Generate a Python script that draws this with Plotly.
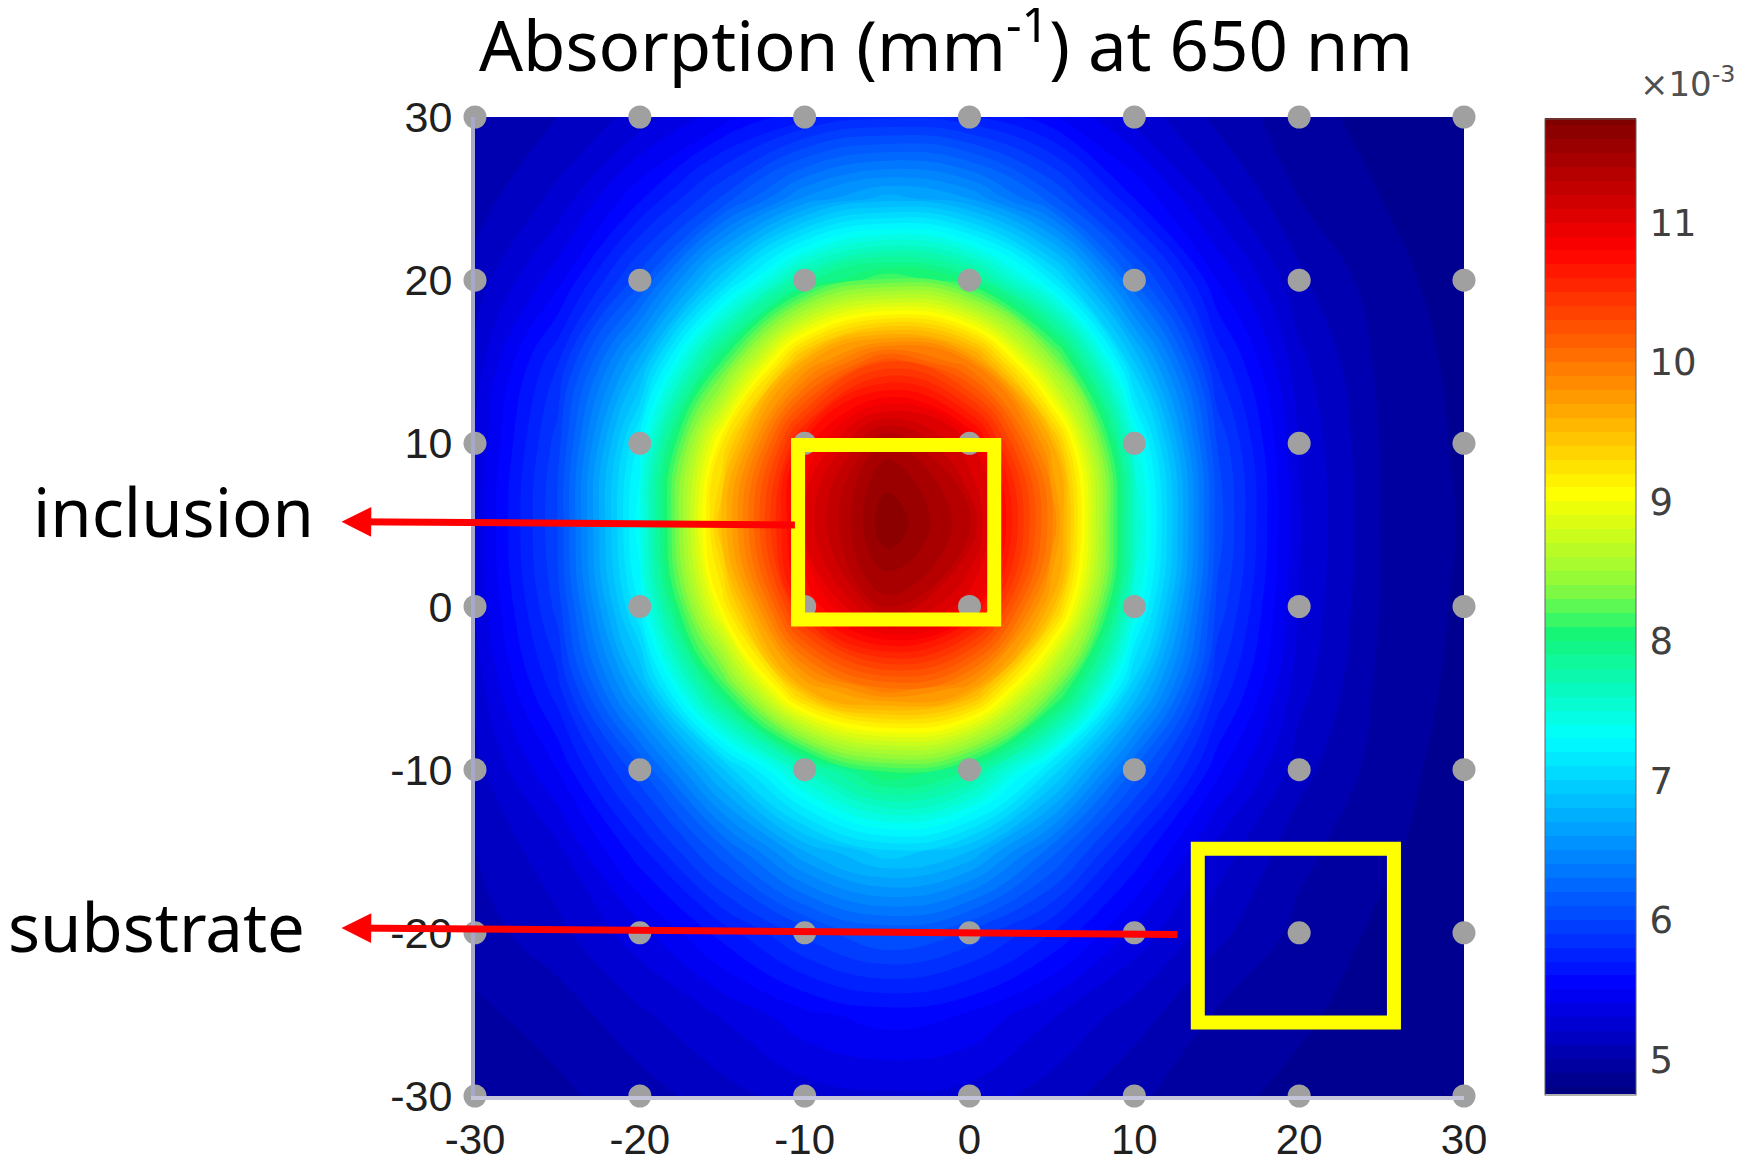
import plotly.graph_objects as go

# absorption map, units of 1e-3 mm^-1, sampled every 5 mm (rows top -> bottom)
x_mm = [-30, -25, -20, -15, -10, -5, 0, 5, 10, 15, 20, 25, 30]
y_mm = [30, 25, 20, 15, 10, 5, 0, -5, -10, -15, -20, -25, -30]
mua = [
    [5.00, 5.10, 5.24, 5.46, 5.68, 5.78, 5.72, 5.52, 5.27, 5.07, 4.94, 4.86, 4.82],
    [5.05, 5.23, 5.58, 6.02, 6.52, 6.75, 6.60, 6.14, 5.60, 5.24, 5.00, 4.90, 4.84],
    [5.14, 5.46, 6.06, 6.98, 7.85, 8.22, 7.98, 7.18, 6.18, 5.50, 5.12, 4.94, 4.85],
    [5.24, 5.79, 6.74, 8.12, 9.65, 10.30, 9.90, 8.45, 6.90, 5.78, 5.23, 4.97, 4.87],
    [5.30, 5.95, 7.25, 9.20, 10.75, 11.45, 11.00, 9.62, 7.45, 6.00, 5.29, 4.99, 4.88],
    [5.33, 6.00, 7.38, 9.52, 11.02, 11.70, 11.32, 9.92, 7.62, 6.06, 5.31, 4.99, 4.89],
    [5.30, 5.94, 7.22, 9.12, 10.66, 11.35, 10.92, 9.55, 7.44, 5.98, 5.29, 4.99, 4.88],
    [5.24, 5.76, 6.74, 8.10, 9.60, 10.00, 9.75, 8.40, 6.92, 5.80, 5.24, 4.97, 4.87],
    [5.16, 5.50, 6.08, 6.88, 7.65, 8.15, 7.90, 7.08, 6.18, 5.53, 5.14, 4.95, 4.85],
    [5.10, 5.27, 5.66, 6.16, 6.70, 6.98, 6.80, 6.24, 5.68, 5.26, 5.03, 4.92, 4.84],
    [5.05, 5.17, 5.36, 5.64, 5.94, 6.12, 5.98, 5.70, 5.37, 5.13, 4.97, 4.88, 4.83],
    [4.98, 5.04, 5.18, 5.31, 5.47, 5.55, 5.49, 5.31, 5.15, 4.99, 4.92, 4.85, 4.82],
    [4.92, 4.98, 5.05, 5.16, 5.25, 5.28, 5.26, 5.15, 5.02, 4.93, 4.87, 4.83, 4.80],
]

# measurement positions (mm)
probe_x = [-30, -20, -10, 0, 10, 20, 30]
probe_y = [-30, -20, -10, 0, 10, 20, 30]

cbar_ticks = [5, 6, 7, 8, 9, 10, 11]
axis_ticks = [-30, -20, -10, 0, 10, 20, 30]
axis_labels = ["-30", "-20", "-10", "0", "10", "20", "30"]

# matlab-ish jet
jet = [
    [0.0, "rgb(0,0,128)"],
    [0.11, "rgb(0,0,255)"],
    [0.365, "rgb(0,255,255)"],
    [0.47, "rgb(20,245,120)"],
    [0.52, "rgb(140,250,60)"],
    [0.615, "rgb(255,255,0)"],
    [0.865, "rgb(255,0,0)"],
    [1.0, "rgb(128,0,0)"],
]

# page body has an 8px margin, so the figure is drawn 8px smaller and
# all pixel positions below are in screenshot coordinates
W, H, OFF = 1745, 1160, 8
PL, PR, PT, PB = 475, 1464, 117, 1096   # plot area in screenshot px


def paper_x(px):
    return (px - PL) / (PR - PL)


def paper_y(py):
    return (PB - py) / (PB - PT)


fig = go.Figure()

fig.add_trace(go.Contour(
    x=x_mm, y=y_mm[::-1], z=mua[::-1],
    colorscale=jet, zmin=4.75, zmax=11.75, zauto=False,
    contours=dict(coloring="fill", start=4.7, end=11.8, size=0.1, showlines=False),
    line=dict(width=0, smoothing=1.3),
    colorbar=dict(
        x=paper_x(1545), xanchor="left", xpad=0, ypad=0,
        y=0.5, yanchor="middle", len=0.997, lenmode="fraction",
        thickness=91, thicknessmode="pixels",
        tickvals=cbar_ticks, ticks="outside", ticklen=6, tickcolor="rgba(0,0,0,0)",
        outlinewidth=1, outlinecolor="#606060",
        tickfont=dict(family="DejaVu Sans", size=37, color="#404040"),
    ),
    hoverinfo="skip",
))

px, py = [], []
for yy in probe_y:
    for xx in probe_x:
        px.append(xx)
        py.append(yy)
fig.add_trace(go.Scatter(
    x=px, y=py, mode="markers", cliponaxis=False,
    marker=dict(size=23, color="#a0a0a0", line=dict(width=0)),
    hoverinfo="skip", showlegend=False,
))

# yellow boxes: inclusion and substrate regions
for x0, x1, y0, y1 in [(-10.4, 1.5, -0.8, 9.9), (13.85, 25.75, -25.5, -14.85)]:
    fig.add_shape(type="rect", xref="x", yref="y", x0=x0, x1=x1, y0=y0, y1=y1,
                  line=dict(color="#ffff00", width=14), layer="above")

# red arrows to the labels
for tail_x, tail_y, head_y in [(-10.5, 5.0, 5.2), (12.7, -20.1, -19.7)]:
    fig.add_annotation(
        x=-38.1, y=head_y, ax=tail_x, ay=tail_y, xref="x", yref="y",
        axref="x", ayref="y", text="", showarrow=True,
        arrowhead=2, arrowsize=0.85, arrowwidth=7, arrowcolor="#ff0000",
    )

for label, lx, ly in [("inclusion", 31, 511), ("substrate", 6, 926)]:
    fig.add_annotation(x=paper_x(lx), y=paper_y(ly), xref="paper", yref="paper",
                       text=label, showarrow=False, xanchor="left", yanchor="middle",
                       font=dict(family="Noto Sans", size=67, color="black"))

fig.add_annotation(x=paper_x(1638), y=paper_y(82), xref="paper", yref="paper",
                   text="×10<sup>-3</sup>", showarrow=False, xanchor="left", yanchor="middle",
                   font=dict(family="DejaVu Sans", size=34, color="#505050"))

fig.update_layout(
    width=W, height=H,
    margin=dict(l=PL - OFF, r=W - (PR - OFF), t=PT - OFF, b=H - (PB - OFF), autoexpand=False),
    paper_bgcolor="white", plot_bgcolor="white",
    title=dict(text="Absorption (mm<sup>-1</sup>) at 650 nm", xref="container", yref="container",
               x=(946 - OFF) / W, xanchor="center", y=1 - (47 - OFF) / H, yanchor="middle",
               font=dict(family="Noto Sans", size=69, color="black")),
    showlegend=False,
)
fig.update_xaxes(range=[-30, 30], tickvals=axis_ticks, ticktext=axis_labels,
                 showgrid=False, zeroline=False, automargin=False,
                 showline=True, linecolor="#c4c4d8", linewidth=4, ticks="",
                 ticklabelstandoff=4,
                 tickfont=dict(family="Liberation Sans", size=42, color="#202020"))
fig.update_yaxes(range=[-30, 30], tickvals=axis_ticks, ticktext=axis_labels,
                 showgrid=False, zeroline=False, automargin=False,
                 showline=True, linecolor="#a8a8c8", linewidth=4, ticks="",
                 ticklabelstandoff=10,
                 tickfont=dict(family="Liberation Sans", size=43, color="#202020"))

fig.write_html("out.html")
